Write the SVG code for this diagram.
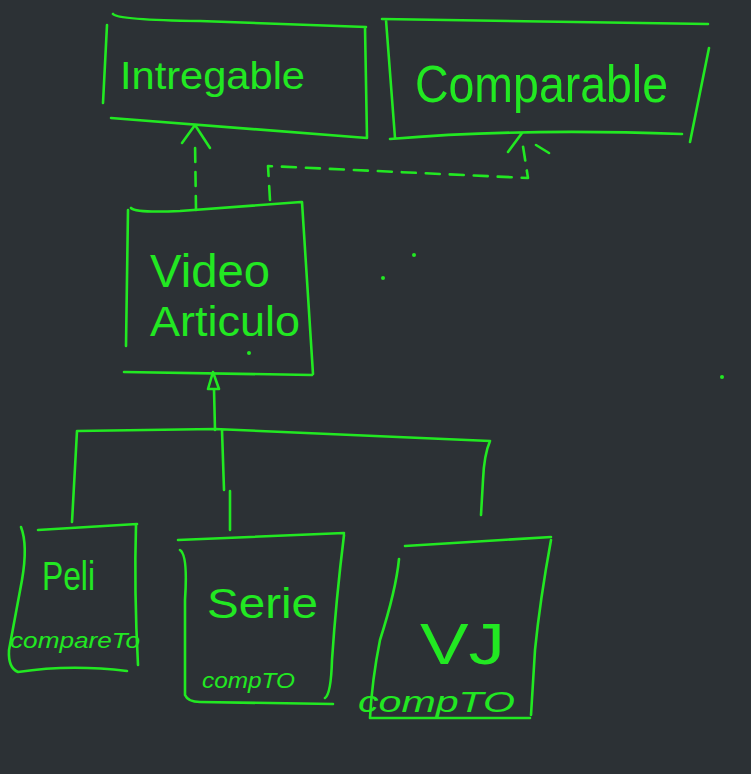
<svg xmlns="http://www.w3.org/2000/svg" width="751" height="774" viewBox="0 0 751 774">
<style>
.s{fill:none;stroke:#22e822;stroke-width:2.6;stroke-linecap:round;stroke-linejoin:round}
.d{stroke-dasharray:14 10}
.t{fill:#22e822;font-family:"Liberation Sans",Arial,sans-serif}
.dot{fill:#22e822}
</style>
<rect width="751" height="774" fill="#2c3135"/>
<g id="intregable">
<path class="s" d="M113,14 Q118,20 200,21 L366,27 M107,25 L103,103 M365,27 L367,138 M111,118 L367,138"/>
<text class="t" x="120" y="89" font-size="38" textLength="185" lengthAdjust="spacingAndGlyphs">Intregable</text>
</g>
<g id="comparable">
<path class="s" d="M382,19 L708,24 M386,20 L395,138 M709,48 L690,142 M390,139 Q520,128 682,134"/>
<text class="t" x="415" y="102" font-size="52" textLength="253" lengthAdjust="spacingAndGlyphs">Comparable</text>
</g>
<g id="video-articulo">
<path class="s" d="M131,208 Q136,213 180,211 L301,202 M128,210 L126,346 M302,202 L313,374 M124,372 L312,375"/>
<text class="t" x="150" y="287" font-size="46" textLength="120" lengthAdjust="spacingAndGlyphs">Video</text>
<text class="t" x="150" y="336" font-size="42" textLength="150" lengthAdjust="spacingAndGlyphs">Articulo</text>
</g>
<g id="peli">
<path class="s" d="M38,530 L137,524 M21,527 Q28,545 22,580 L9,650 Q8,668 18,672 Q70,664 127,671 M136,525 Q134,590 138,665"/>
<text class="t" x="42" y="590" font-size="40" textLength="53" lengthAdjust="spacingAndGlyphs">Peli</text>
<text class="t" x="10" y="648" font-size="22" font-style="italic" textLength="130" lengthAdjust="spacingAndGlyphs">compareTo</text>
</g>
<g id="serie">
<path class="s" d="M178,540 L344,533 M180,550 Q188,555 185,600 L185,695 Q188,702 200,702 L333,704 M344,535 Q336,600 332,660 Q331,694 325,698"/>
<text class="t" x="207" y="618" font-size="42" textLength="111" lengthAdjust="spacingAndGlyphs">Serie</text>
<text class="t" x="202" y="688" font-size="22" font-style="italic" textLength="93" lengthAdjust="spacingAndGlyphs">compTO</text>
</g>
<g id="vj">
<path class="s" d="M405,546 L551,537 M399,559 Q396,590 380,640 Q372,680 370,718 L530,718 M551,540 Q540,600 535,650 L531,715"/>
<text class="t" x="420" y="664" font-size="58" textLength="85" lengthAdjust="spacingAndGlyphs">VJ</text>
<text class="t" x="358" y="712" font-size="30" font-style="italic" textLength="157" lengthAdjust="spacingAndGlyphs">compTO</text>
</g>
<g id="connectors">
<path class="s d" d="M196,210 L195,142"/>
<path class="s" d="M182,143 L195,125 L210,148"/>
<path class="s d" d="M270,200 L268,166 L528,178 L522,140"/>
<path class="s" d="M508,152 L522,133 M536,145 L549,153"/>
<path class="s" d="M213,372 L208,389 L219,389 Z M214,389 L215,430"/>
<path class="s" d="M77,431 L215,429 L490,441 M77,431 L72,522 M222,430 L224,490 M230,491 L230,530 M490,441 Q484,455 483,480 L481,515"/>
</g>
<circle class="dot" cx="383" cy="278" r="2"/>
<circle class="dot" cx="414" cy="255" r="2"/>
<circle class="dot" cx="722" cy="377" r="2"/>
<circle class="dot" cx="249" cy="353" r="2"/>
</svg>
